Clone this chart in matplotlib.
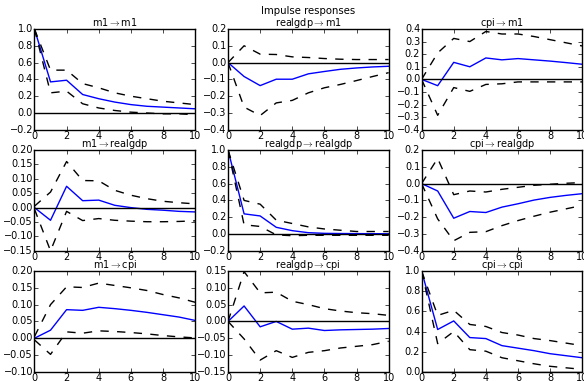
import matplotlib
matplotlib.use('Agg')
import matplotlib.pyplot as plt
import numpy as np

plt.style.use('classic')

names = ['m1', 'realgdp', 'cpi']
periods = np.arange(11)

# irf[response][impulse] -> (point estimate, upper band, lower band)
irf_m1_m1 = [1.0, 0.37, 0.39, 0.22, 0.17, 0.13, 0.10, 0.08, 0.07, 0.06, 0.05]
up_m1_m1 = [1.0, 0.51, 0.51, 0.35, 0.30, 0.24, 0.20, 0.17, 0.14, 0.12, 0.10]
lo_m1_m1 = [1.0, 0.24, 0.26, 0.11, 0.06, 0.03, 0.01, 0.0, -0.01, -0.01, -0.02]

irf_gdp_m1 = [0.0, -0.083, -0.137, -0.099, -0.099, -0.067, -0.053, -0.040, -0.032, -0.026, -0.022]
up_gdp_m1 = [0.0, 0.10, 0.05, 0.048, 0.034, 0.030, 0.024, 0.020, 0.018, 0.018, 0.018]
lo_gdp_m1 = [0.0, -0.265, -0.315, -0.24, -0.225, -0.18, -0.15, -0.13, -0.107, -0.083, -0.06]

irf_cpi_m1 = [0.0, -0.05, 0.135, 0.10, 0.17, 0.155, 0.165, 0.155, 0.145, 0.133, 0.12]
up_cpi_m1 = [0.0, 0.21, 0.325, 0.30, 0.38, 0.36, 0.36, 0.34, 0.315, 0.29, 0.265]
lo_cpi_m1 = [0.0, -0.285, -0.065, -0.095, -0.04, -0.035, -0.02, -0.02, -0.02, -0.02, -0.02]

irf_m1_gdp = [0.0, -0.044, 0.074, 0.024, 0.026, 0.008, 0.0, -0.006, -0.009, -0.013, -0.015]
up_m1_gdp = [0.005, 0.054, 0.16, 0.094, 0.093, 0.06, 0.043, 0.031, 0.022, 0.017, 0.013]
lo_m1_gdp = [-0.005, -0.15, -0.013, -0.045, -0.038, -0.044, -0.047, -0.049, -0.049, -0.048, -0.046]

irf_gdp_gdp = [1.0, 0.24, 0.215, 0.08, 0.04, 0.016, 0.008, 0.006, 0.005, 0.004, 0.003]
up_gdp_gdp = [1.0, 0.40, 0.355, 0.165, 0.125, 0.085, 0.06, 0.045, 0.03, 0.03, 0.03]
lo_gdp_gdp = [1.0, 0.11, 0.09, -0.01, -0.02, -0.015, -0.015, -0.015, -0.015, -0.015, -0.015]

irf_cpi_gdp = [0.0, -0.044, -0.206, -0.166, -0.172, -0.14, -0.12, -0.098, -0.082, -0.07, -0.06]
up_cpi_gdp = [0.0, 0.15, -0.066, -0.044, -0.05, -0.034, -0.022, -0.01, -0.004, 0.002, 0.006]
lo_cpi_gdp = [0.0, -0.21, -0.34, -0.29, -0.286, -0.25, -0.22, -0.194, -0.17, -0.15, -0.13]

irf_m1_cpi = [0.0, 0.024, 0.085, 0.083, 0.092, 0.088, 0.083, 0.077, 0.07, 0.063, 0.053]
up_m1_cpi = [0.005, 0.10, 0.153, 0.151, 0.164, 0.157, 0.15, 0.142, 0.13, 0.12, 0.107]
lo_m1_cpi = [-0.005, -0.048, 0.019, 0.015, 0.022, 0.02, 0.017, 0.013, 0.008, 0.004, 0.001]

irf_gdp_cpi = [0.0, 0.046, -0.016, 0.0, -0.023, -0.02, -0.027, -0.025, -0.024, -0.023, -0.021]
up_gdp_cpi = [0.0, 0.148, 0.085, 0.087, 0.06, 0.05, 0.038, 0.031, 0.026, 0.023, 0.018]
lo_gdp_cpi = [0.0, -0.052, -0.115, -0.087, -0.107, -0.092, -0.087, -0.079, -0.074, -0.069, -0.059]

irf_cpi_cpi = [1.0, 0.42, 0.505, 0.34, 0.33, 0.26, 0.235, 0.21, 0.18, 0.16, 0.14]
up_cpi_cpi = [1.0, 0.56, 0.61, 0.47, 0.45, 0.39, 0.365, 0.33, 0.31, 0.285, 0.26]
lo_cpi_cpi = [1.0, 0.28, 0.40, 0.22, 0.205, 0.14, 0.11, 0.08, 0.055, 0.04, 0.025]

panels = [
    [(irf_m1_m1, up_m1_m1, lo_m1_m1), (irf_gdp_m1, up_gdp_m1, lo_gdp_m1), (irf_cpi_m1, up_cpi_m1, lo_cpi_m1)],
    [(irf_m1_gdp, up_m1_gdp, lo_m1_gdp), (irf_gdp_gdp, up_gdp_gdp, lo_gdp_gdp), (irf_cpi_gdp, up_cpi_gdp, lo_cpi_gdp)],
    [(irf_m1_cpi, up_m1_cpi, lo_m1_cpi), (irf_gdp_cpi, up_gdp_cpi, lo_gdp_cpi), (irf_cpi_cpi, up_cpi_cpi, lo_cpi_cpi)],
]

ylims = [
    [(-0.2, 1.0, 0.2), (-0.4, 0.2, 0.1), (-0.4, 0.4, 0.1)],
    [(-0.15, 0.20, 0.05), (-0.2, 1.0, 0.2), (-0.4, 0.2, 0.1)],
    [(-0.10, 0.20, 0.05), (-0.15, 0.15, 0.05), (0.0, 1.0, 0.2)],
]
fmts = [['%.1f', '%.1f', '%.1f'], ['%.2f', '%.1f', '%.1f'], ['%.2f', '%.2f', '%.1f']]

fig, axes = plt.subplots(3, 3, figsize=(5.84, 3.81), dpi=100, facecolor='white')
fig.subplots_adjust(left=0.059, right=0.997, top=0.924, bottom=0.024, wspace=0.205, hspace=0.2)

for i in range(3):
    for j in range(3):
        ax = axes[i, j]
        ax.set_facecolor('white')
        irf, up, lo = panels[i][j]
        ax.plot(periods, irf, 'b-', lw=1)
        ax.plot(periods, up, 'k--', lw=1)
        ax.plot(periods, lo, 'k--', lw=1)
        ax.axhline(0, color='k', lw=1)
        y0, y1, step = ylims[i][j]
        ax.set_ylim(y0, y1)
        ticks = np.round(np.arange(y0, y1 + step / 2, step), 4)
        ax.set_yticks(ticks)
        labels = [fmts[i][j] % (t + 0.0) for t in ticks]
        ax.set_yticklabels([s.replace('-', '\u2212') if not s.strip('-0.') == '' else s.lstrip('-') for s in labels])
        ax.set_xlim(0, 10)
        ax.set_xticks(range(0, 11, 2))
        ax.tick_params(labelsize=7, length=3, pad=1)
        ax.set_title(r'%s$\rightarrow$%s' % (names[j], names[i]), fontsize=7, pad=2)

fig.text(0.527, 0.971, 'Impulse responses', fontsize=7.3, ha='center', va='center')
fig.savefig('out.png', dpi=100, facecolor='white')
